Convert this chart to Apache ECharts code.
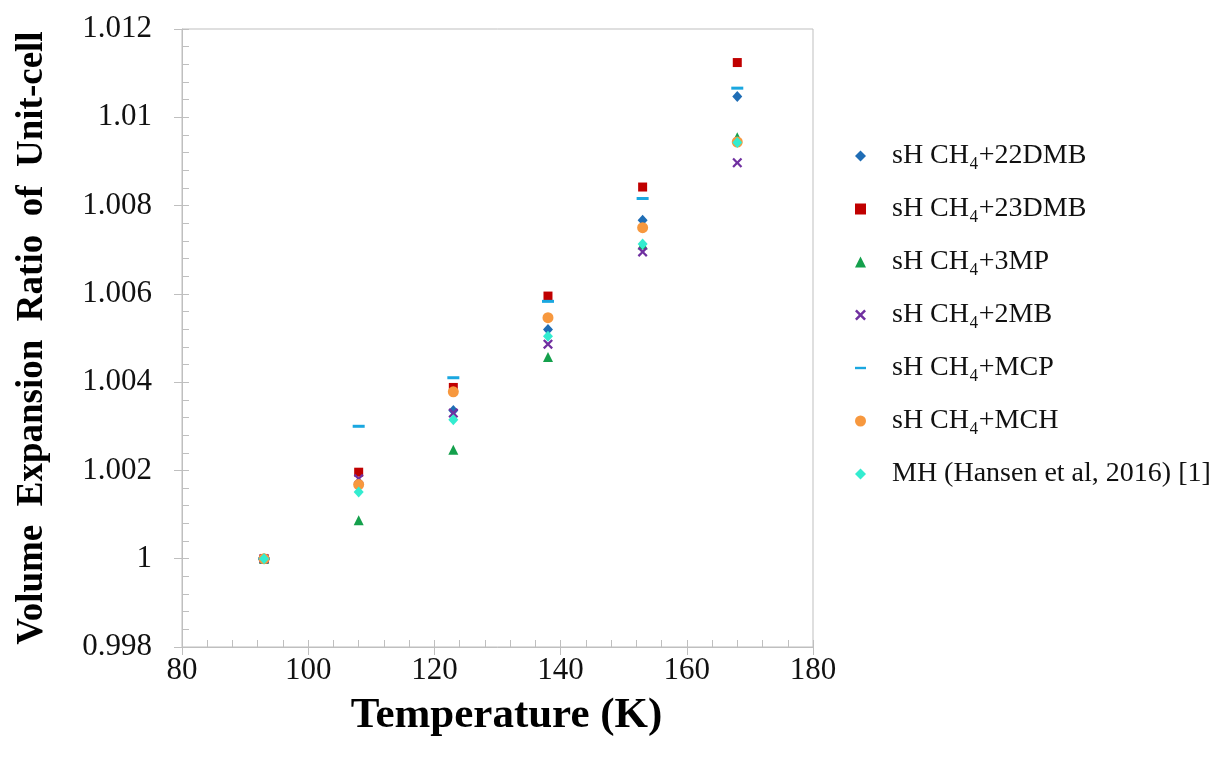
<!DOCTYPE html>
<html>
<head>
<meta charset="utf-8">
<script src="https://cdn.jsdelivr.net/npm/echarts@6/dist/echarts.min.js"></script>
<style>
html,body{margin:0;padding:0;background:#fff;}
#chart{width:1221px;height:760px;}
</style>
</head>
<body>
<div id="chart"></div>
<script>
// ---- data ----
const temperatures = [93, 108, 123, 138, 153, 168];
const seriesNames = [
  'sH CH\u2084+22DMB', 'sH CH\u2084+23DMB', 'sH CH\u2084+3MP', 'sH CH\u2084+2MB',
  'sH CH\u2084+MCP', 'sH CH\u2084+MCH', 'MH (Hansen et al, 2016) [1]'
];
const v22DMB = [1.0000, 1.00170, 1.00336, 1.00519, 1.00767, 1.01047];
const v23DMB = [1.0000, 1.00196, 1.00388, 1.00595, 1.00842, 1.01124];
const v3MP   = [1.0000, 1.00087, 1.00247, 1.00457, 1.00712, 1.00955];
const v2MB   = [1.0000, 1.00181, 1.00330, 1.00486, 1.00695, 1.00897];
const vMCP   = [1.0000, 1.00300, 1.00410, 1.00583, 1.00816, 1.01066];
const vMCH   = [1.0000, 1.00168, 1.00378, 1.00546, 1.00750, 1.00944];
const vMH    = [1.0000, 1.00151, 1.00315, 1.00504, 1.00713, 1.00943];
const xTicks = [80, 100, 120, 140, 160, 180];
const yTicks = [0.998, 1, 1.002, 1.004, 1.006, 1.008, 1.01, 1.012];

// ---- styling ----
const serif = '"Liberation Serif","Times New Roman",serif';
const xPath = 'path://M0,1.6 L1.6,0 L5,3.4 L8.4,0 L10,1.6 L6.6,5 L10,8.4 L8.4,10 L5,6.6 L1.6,10 L0,8.4 L3.4,5 Z';
const dashPath = 'path://M0,0 L12,0 L12,2.6 L0,2.6 Z';
const styles = [
  {symbol: 'diamond', size: [10, 11], color: '#1f6db5', legendIcon: 'diamond'},
  {symbol: 'rect', size: 9, color: '#c00000', legendIcon: 'rect'},
  {symbol: 'triangle', size: 10, color: '#14a04c', legendIcon: 'triangle'},
  {symbol: xPath, size: 10, color: '#7030a0', legendIcon: xPath},
  {symbol: 'rect', size: [12, 3], color: '#1aa7e0', legendIcon: dashPath},
  {symbol: 'circle', size: 11, color: '#f7983e', legendIcon: 'circle'},
  {symbol: 'diamond', size: [10, 11], color: '#33ecd0', legendIcon: 'diamond'}
];
const values = [v22DMB, v23DMB, v3MP, v2MB, vMCP, vMCH, vMH];

const series = values.map((vals, i) => ({
  name: seriesNames[i],
  type: 'scatter',
  symbol: styles[i].symbol,
  symbolSize: styles[i].size,
  itemStyle: {color: styles[i].color, opacity: 1},
  emphasis: {disabled: true},
  z: 10 + i,
  data: temperatures.map((t, j) => [t, vals[j]])
}));

const fmtY = v => parseFloat(v.toFixed(3)).toString();
const axisGray = '#bfbfbf';

const chart = echarts.init(document.getElementById('chart'), null, {renderer: 'canvas'});
chart.setOption({
  backgroundColor: '#fff',
  animation: false,
  grid: {left: 182, right: 408, top: 29, bottom: 113, show: true, borderColor: axisGray, borderWidth: 1},
  legend: {
    orient: 'vertical',
    left: 850,
    top: 137,
    itemWidth: 11,
    itemHeight: 11,
    itemGap: 25,
    textStyle: {fontFamily: serif, fontSize: 28, color: '#111', padding: [0, 0, 0, 21]},
    data: seriesNames.map((n, i) => ({name: n, icon: styles[i].legendIcon}))
  },
  xAxis: [{
    type: 'value', min: 80, max: 180, interval: 20,
    name: 'Temperature (K)', nameLocation: 'middle', nameGap: 47,
    nameTextStyle: {fontFamily: serif, fontSize: 43, fontWeight: 'bold', color: '#000', padding: [0, 0, 0, 18]},
    axisLine: {show: true, lineStyle: {color: axisGray, width: 1}},
    axisTick: {show: true, inside: false, length: 8, lineStyle: {color: axisGray}},
    minorTick: {show: false},
    axisLabel: {fontFamily: serif, fontSize: 31, color: '#111', margin: 8, formatter: v => String(v)},
    splitLine: {show: false}
  }, {
    type: 'value', min: 80, max: 180, interval: 20, position: 'bottom',
    axisLine: {show: false},
    axisTick: {show: true, inside: true, length: 7, lineStyle: {color: axisGray}},
    minorTick: {show: true, splitNumber: 5, length: 7, lineStyle: {color: axisGray}},
    axisLabel: {show: false}, splitLine: {show: false}
  }],
  yAxis: [{
    type: 'value', min: 0.998, max: 1.012, interval: 0.002,
    name: 'Volume  Expansion  Ratio  of  Unit-cell', nameLocation: 'middle', nameGap: 131,
    nameTextStyle: {fontFamily: serif, fontSize: 37, fontWeight: 'bold', color: '#000'},
    axisLine: {show: true, lineStyle: {color: axisGray, width: 1}},
    axisTick: {show: true, inside: false, length: 8, lineStyle: {color: axisGray}},
    axisLabel: {fontFamily: serif, fontSize: 31, color: '#111', margin: 30, formatter: fmtY},
    splitLine: {show: false}
  }, {
    type: 'value', min: 0.998, max: 1.012, interval: 0.002, position: 'left',
    axisLine: {show: false},
    axisTick: {show: true, inside: true, length: 7, lineStyle: {color: axisGray}},
    minorTick: {show: true, splitNumber: 5, length: 7, lineStyle: {color: axisGray}},
    axisLabel: {show: false}, splitLine: {show: false}
  }],
  series: series
});
</script>
</body>
</html>
